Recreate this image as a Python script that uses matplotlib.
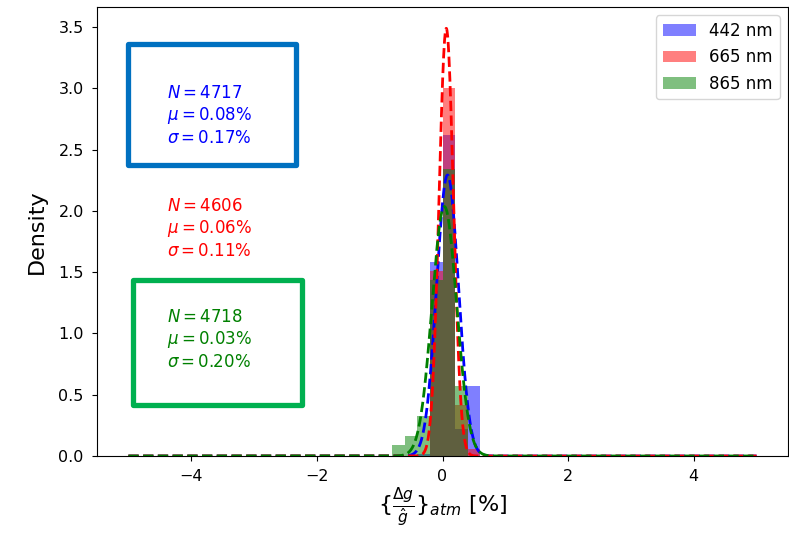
import numpy as np
import matplotlib
matplotlib.use("Agg")
import matplotlib.pyplot as plt
from matplotlib.patches import Rectangle

# Band labels and fitted statistics (values in %)
bands = ["442 nm", "665 nm", "865 nm"]
colors = ["blue", "red", "green"]
counts = [4717, 4606, 4718]
means = [0.08, 0.06, 0.03]
sigmas = [0.174, 0.1143, 0.196]

# Normalised histogram (density) on common bin edges
bin_edges = [-0.8, -0.6, -0.4, -0.2, 0.0, 0.2, 0.4, 0.6]
dens_442 = [0.0, 0.0, 0.02, 1.58, 2.62, 0.22, 0.57]
dens_665 = [0.0, 0.0, 0.0, 1.51, 3.00, 0.42, 0.06]
dens_865 = [0.09, 0.16, 0.33, 1.44, 2.34, 0.57, 0.0]
densities = [dens_442, dens_665, dens_865]

W, H, DPI = 789, 537, 100
fig = plt.figure(figsize=(W / DPI, H / DPI), dpi=DPI)
ax = fig.add_axes([97 / W, 81 / H, 691 / W, 449 / H])

edges = np.array(bin_edges)
widths = np.diff(edges)
for dens, col, lab in zip(densities, colors, bands):
    ax.bar(edges[:-1], dens, width=widths, align="edge", color=col,
           alpha=0.5, label=lab, linewidth=0)

x = np.linspace(-5, 5, 2000)
for mu, sd, col in zip(means, sigmas, colors):
    pdf = np.exp(-0.5 * ((x - mu) / sd) ** 2) / (sd * np.sqrt(2 * np.pi))
    ax.plot(x, pdf, "--", color=col, lw=2)

# Summary statistics for each band
text_tops = [0.828, 0.577, 0.330]
for n, mu, sd, col, yt in zip(counts, means, sigmas, colors, text_tops):
    ax.text(0.101, yt,
            f"$N = {n}$\n$\\mu = {mu:.2f}\\%$\n$\\sigma = {sd:.2f}\\%$",
            transform=ax.transAxes, color=col, fontsize=12,
            ha="left", va="top")

ax.tick_params(labelsize=11.5, pad=6)
ax.set_ylabel("Density", fontsize=16, labelpad=8)
ax.set_xlabel(r"$\{\frac{\Delta g}{\hat{g}}\}_{atm}$ [%]", fontsize=16,
              labelpad=1)
ax.legend(loc="upper right", fontsize=12)

# Highlight frames around the 442 nm and 865 nm statistics
def frame(x0, y0, x1, y1, col):
    r = Rectangle((x0 / W, 1 - y1 / H), (x1 - x0) / W, (y1 - y0) / H,
                  transform=fig.transFigure, fill=False, edgecolor=col,
                  linewidth=3.8, joinstyle="round", zorder=10)
    fig.patches.append(r)

frame(127.5, 44.5, 295.5, 165.5, "#0070C0")
frame(133.0, 279.5, 301.5, 404.5, "#00B050")

fig.savefig("out.png", dpi=DPI)
